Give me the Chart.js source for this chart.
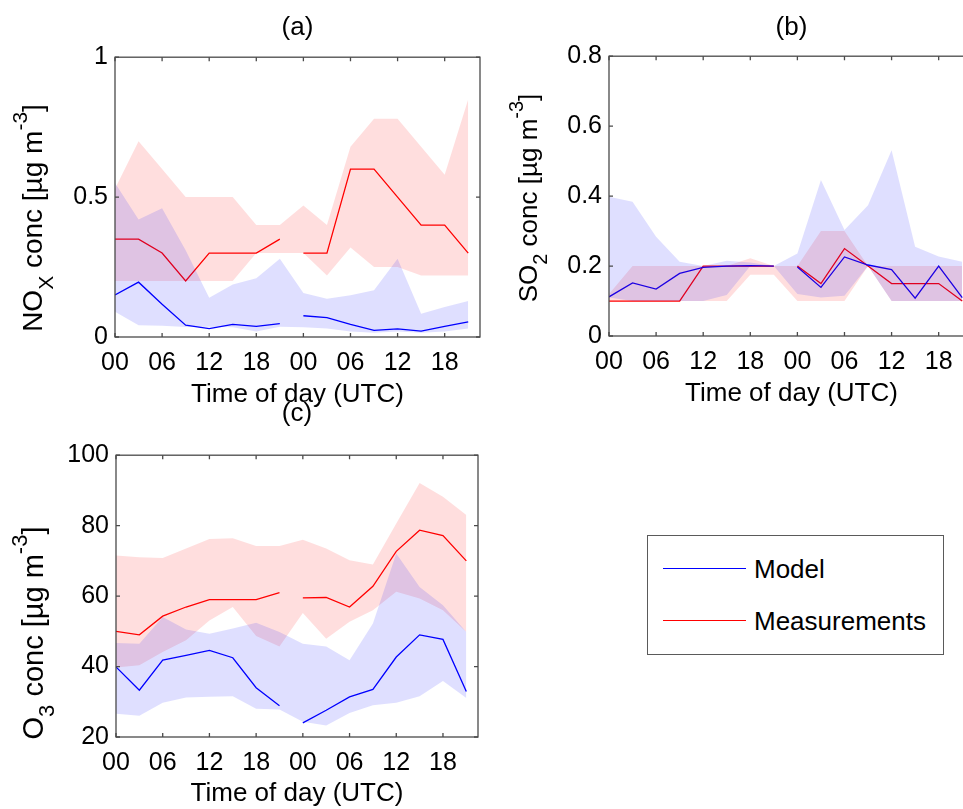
<!DOCTYPE html>
<html>
<head>
<meta charset="utf-8">
<script src="https://cdn.jsdelivr.net/npm/chart.js@4.4.1/dist/chart.umd.min.js"></script>
<style>
  html, body { margin:0; padding:0; background:#fff; width:963px; height:809px; overflow:hidden; }
  body { position:relative; font-family:"Liberation Sans", Arial, sans-serif; }
  canvas { position:absolute; }
  #legend { position:absolute; left:647px; top:535px; width:297px; height:120px; border:1.5px solid #5a5a5a; box-sizing:border-box; background:#fff; }
  .li { position:absolute; left:0; height:30px; }
  .li .sw { position:absolute; left:15px; width:83px; top:14px; height:0; border-top:1.5px solid; }
  .li .tx { position:absolute; left:106px; top:0; font-size:26px; line-height:30px; color:#000; white-space:nowrap; }
</style>
</head>
<body>
<canvas id="ca" width="490" height="415" style="left:0;top:0"></canvas>
<canvas id="cb" width="500" height="415" style="left:480px;top:0"></canvas>
<canvas id="cc" width="490" height="419" style="left:0;top:390px"></canvas>
<div id="legend"></div>
<script>
// ---------------- data ----------------
const hours = [0,3,6,9,12,15,18,21,24,27,30,33,36,39,42,45];
const gapAfterIndex = 7;               // lines break between day 1 21h and day 2 00h
const xTickValues = [0,6,12,18,24,30,36,42];
const xTickLabels = ['00','06','12','18','00','06','12','18'];
const seriesNames = ['Model','Measurements'];

// (a) NOx
const noxModel    = [0.150,0.196,0.117,0.042,0.030,0.045,0.038,0.048, 0.076,0.069,0.045,0.024,0.029,0.021,0.038,0.054];
const noxModelHi  = [0.550,0.420,0.460,0.310,0.140,0.188,0.210,0.280, 0.157,0.137,0.149,0.167,0.280,0.083,0.107,0.129];
const noxModelLo  = [0.090,0.042,0.040,0.036,0.037,0.035,0.020,0.037, 0.035,0.030,0.020,0.015,0.020,0.015,0.020,0.030];
const noxMeas     = [0.35,0.35,0.30,0.20,0.30,0.30,0.30,0.35, 0.30,0.30,0.60,0.60,0.50,0.40,0.40,0.30];
const noxMeasHi   = [0.53,0.70,0.60,0.50,0.50,0.50,0.40,0.40, 0.47,0.40,0.68,0.78,0.78,0.68,0.58,0.85];
const noxMeasLo   = [0.20,0.20,0.20,0.20,0.20,0.20,0.30,0.30, 0.30,0.22,0.32,0.25,0.25,0.22,0.22,0.22];
const noxTicks    = [0,0.5,1];

// (b) SO2
const so2Model    = [0.112,0.152,0.134,0.179,0.196,0.200,0.201,0.200, 0.197,0.139,0.226,0.203,0.190,0.108,0.200,0.110];
const so2ModelHi  = [0.398,0.384,0.284,0.212,0.200,0.215,0.210,0.200, 0.236,0.446,0.303,0.374,0.531,0.255,0.227,0.212];
const so2ModelLo  = [0.110,0.100,0.100,0.100,0.100,0.117,0.200,0.200, 0.120,0.110,0.115,0.200,0.100,0.100,0.100,0.100];
const so2Meas     = [0.10,0.10,0.10,0.10,0.20,0.20,0.20,0.20, 0.20,0.15,0.25,0.20,0.15,0.15,0.15,0.10];
const so2MeasHi   = [0.12,0.20,0.20,0.20,0.20,0.20,0.222,0.20, 0.20,0.30,0.30,0.20,0.20,0.20,0.20,0.20];
const so2MeasLo   = [0.10,0.10,0.10,0.10,0.10,0.10,0.175,0.175, 0.10,0.10,0.10,0.20,0.10,0.10,0.10,0.10];
const so2Ticks    = [0,0.2,0.4,0.6,0.8];

// (c) O3
const o3Model     = [39.9,33.3,41.8,43.2,44.6,42.5,34.0,28.9, 24.0,27.6,31.4,33.5,42.7,49.0,47.7,32.9];
const o3ModelHi   = [46.7,46.5,54.1,50.5,49.3,50.8,52.4,49.8, 46.5,45.7,41.8,52.2,72.1,62.6,57.4,49.8];
const o3ModelLo   = [26.6,26.0,29.7,31.2,31.4,31.6,28.0,27.8, 24.3,23.3,26.8,29.0,29.7,31.6,35.9,31.1];
const o3Meas      = [50.0,49.0,54.3,56.9,59.0,59.0,59.0,61.0, 59.5,59.6,56.9,62.8,72.7,78.7,77.2,70.0];
const o3MeasHi    = [71.5,71.0,70.8,73.5,76.2,76.4,74.2,74.2, 76.0,73.5,70.2,69.0,80.6,92.1,88.2,83.0];
const o3MeasLo    = [39.7,40.4,44.1,47.5,53.1,56.9,48.7,45.7, 55.2,47.9,52.7,56.0,61.2,59.3,56.0,49.8];
const o3Ticks     = [20,40,60,80,100];

// ---------------- styling ----------------
const FONT = '"Liberation Sans", Arial, sans-serif';
const BLUE = '#0000ff', RED = '#ff0000';
const BLUE_BAND = 'rgba(0,0,255,0.125)', RED_BAND = 'rgba(255,0,0,0.13)';
const X_MAX = 46.5;

const framePlugin = {
  id: 'frame',
  afterDatasetsDraw(chart) {
    const {ctx, chartArea: a, scales: {x, y}} = chart;
    ctx.save();
    ctx.strokeStyle = '#4a4a4a';
    ctx.lineWidth = 1.3;
    ctx.strokeRect(a.left, a.top, a.right - a.left, a.bottom - a.top);
    const L = 4;
    ctx.beginPath();
    x.ticks.forEach(t => {
      const px = x.getPixelForValue(t.value);
      ctx.moveTo(px, a.bottom); ctx.lineTo(px, a.bottom - L);
      ctx.moveTo(px, a.top); ctx.lineTo(px, a.top + L);
    });
    y.ticks.forEach(t => {
      const py = y.getPixelForValue(t.value);
      ctx.moveTo(a.left, py); ctx.lineTo(a.left + L, py);
      ctx.moveTo(a.right, py); ctx.lineTo(a.right - L, py);
    });
    ctx.stroke();
    ctx.restore();
  }
};

const yTitlePlugin = {
  id: 'yTitle',
  afterDraw(chart, args, opts) {
    if (!opts || !opts.segments) return;
    const ctx = chart.ctx;
    const base = opts.size, small = opts.small;
    ctx.save();
    let w = 0;
    opts.segments.forEach(s => { ctx.font = (s.s ? small : base) + 'px ' + FONT; w += ctx.measureText(s.t).width; });
    ctx.translate(opts.x, opts.y);
    ctx.rotate(-Math.PI / 2);
    ctx.fillStyle = '#000';
    ctx.textBaseline = 'alphabetic';
    ctx.textAlign = 'left';
    let cx = -w / 2;
    opts.segments.forEach(s => {
      ctx.font = (s.s ? small : base) + 'px ' + FONT;
      const dy = s.s === 'sub' ? small * 0.5 : (s.s === 'sup' ? -base * 0.55 : 0);
      ctx.fillText(s.t, cx, dy);
      cx += ctx.measureText(s.t).width;
    });
    ctx.restore();
  }
};

function pts(vals) { return hours.map((h, i) => ({x: h, y: vals[i]})); }

function makePanel(id, p) {
  const gapSeg = { borderColor: c => c.p0DataIndex === gapAfterIndex ? 'rgba(0,0,0,0)' : undefined };
  const band = (vals, color, fill) => ({
    data: pts(vals), borderColor: 'rgba(0,0,0,0)', borderWidth: 0, pointRadius: 0,
    backgroundColor: color, fill: fill, tension: 0
  });
  const line = (label, vals, color) => ({
    label, data: pts(vals), borderColor: color, borderWidth: 1.3, pointRadius: 0,
    fill: false, tension: 0, segment: gapSeg
  });
  return new Chart(document.getElementById(id), {
    type: 'line',
    data: {
      datasets: [
        band(p.modelHi, BLUE_BAND, '+1'),
        band(p.modelLo, BLUE_BAND, false),
        band(p.measHi, RED_BAND, '+1'),
        band(p.measLo, RED_BAND, false),
        line(seriesNames[0], p.model, BLUE),
        line(seriesNames[1], p.meas, RED)
      ]
    },
    plugins: [framePlugin, yTitlePlugin],
    options: {
      responsive: false, animation: false, devicePixelRatio: 1,
      layout: { padding: { left: 0, right: p.padRight, top: 0, bottom: 0 } },
      plugins: {
        legend: { display: false },
        tooltip: { enabled: false },
        title: {
          display: true, text: p.title, color: '#000', fullSize: false,
          font: { family: FONT, size: 26, weight: 'normal', lineHeight: 1.2 },
          padding: { top: p.titleTop, bottom: p.titleBottom }
        },
        yTitle: p.ytitle
      },
      scales: {
        x: {
          type: 'linear', min: 0, max: X_MAX,
          grid: { display: false, drawTicks: false }, border: { display: false },
          afterBuildTicks: s => { s.ticks = xTickValues.map(v => ({value: v})); },
          afterFit: s => { s.height = p.xHeight; },
          ticks: {
            autoSkip: false, maxRotation: 0, padding: 11, color: '#000',
            font: { family: FONT, size: 25 },
            callback: v => xTickLabels[xTickValues.indexOf(v)]
          },
          title: {
            display: true, text: 'Time of day (UTC)', color: '#000',
            font: { family: FONT, size: 26, lineHeight: 1.2 },
            padding: { top: 0, bottom: p.xTitleBottom }
          }
        },
        y: {
          type: 'linear', min: p.yTicks[0], max: p.yTicks[p.yTicks.length - 1],
          grid: { display: false, drawTicks: false }, border: { display: false },
          afterBuildTicks: s => { s.ticks = p.yTicks.map(v => ({value: v})); },
          afterFit: s => { s.width = p.yWidth; },
          ticks: { padding: 7, color: '#000', font: { family: FONT, size: 25 }, callback: v => String(v) }
        }
      }
    }
  });
}

const unitSegs = [{t:' conc [\u00B5g m'}, {t:'-3', s:'sup'}, {t:']'}];

makePanel('ca', {
  title: '(a)', titleTop: 12, titleBottom: 14, padRight: 10, yWidth: 115, xHeight: 78, xTitleBottom: 5,
  yTicks: noxTicks, model: noxModel, modelHi: noxModelHi, modelLo: noxModelLo,
  meas: noxMeas, measHi: noxMeasHi, measLo: noxMeasLo,
  ytitle: { x: 42, y: 218, size: 28, small: 21, segments: [{t:'NO'}, {t:'X', s:'sub'}].concat(unitSegs) }
});
makePanel('cb', {
  title: '(b)', titleTop: 12, titleBottom: 13, padRight: 6, yWidth: 129, xHeight: 79, xTitleBottom: 6,
  yTicks: so2Ticks, model: so2Model, modelHi: so2ModelHi, modelLo: so2ModelLo,
  meas: so2Meas, measHi: so2MeasHi, measLo: so2MeasLo,
  ytitle: { x: 57, y: 198, size: 26, small: 20, segments: [{t:'SO'}, {t:'2', s:'sub'}].concat(unitSegs) }
});
makePanel('cc', {
  title: '(c)', titleTop: 8, titleBottom: 26, padRight: 12, yWidth: 116, xHeight: 72, xTitleBottom: 0,
  yTicks: o3Ticks, model: o3Model, modelHi: o3ModelHi, modelLo: o3ModelLo,
  meas: o3Meas, measHi: o3MeasHi, measLo: o3MeasLo,
  ytitle: { x: 43, y: 243, size: 29, small: 22, segments: [{t:'O'}, {t:'3', s:'sub'}].concat(unitSegs) }
});

// legend (HTML, built from series names)
const legend = document.getElementById('legend');
[[seriesNames[0], BLUE, 18], [seriesNames[1], RED, 70]].forEach(([name, col, top]) => {
  const d = document.createElement('div');
  d.className = 'li'; d.style.top = top + 'px';
  d.innerHTML = '<div class="sw" style="border-color:' + col + '"></div><div class="tx">' + name + '</div>';
  legend.appendChild(d);
});
</script>
</body>
</html>
